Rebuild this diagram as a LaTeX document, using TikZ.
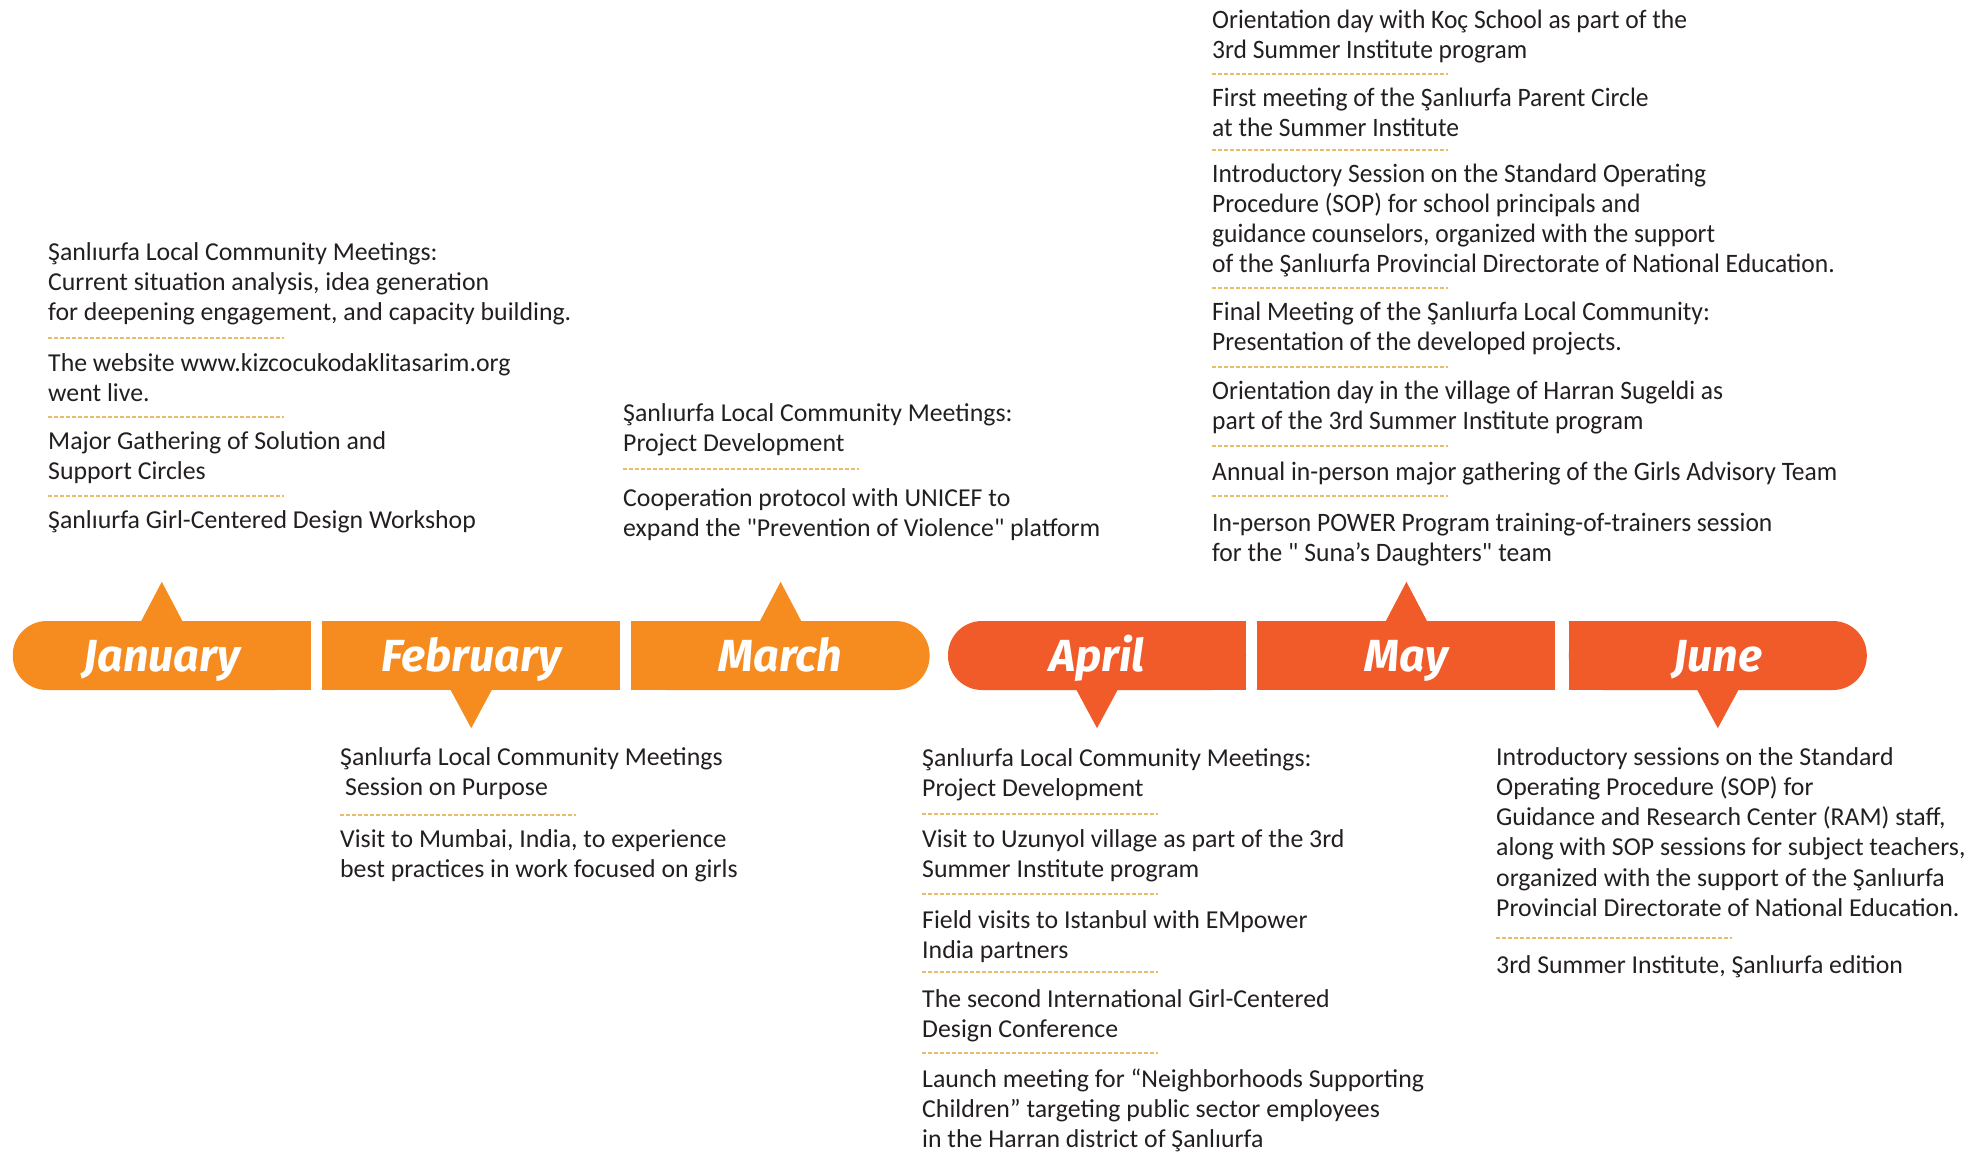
\documentclass[tikz,border=0pt]{standalone}
\usepackage{fontspec}
\setmainfont{Carlito}
\newfontfamily\monthfont{Fira Sans}
\newfontfamily\narrowfont{Carlito}[FakeStretch=0.96]
\usetikzlibrary{positioning,backgrounds}

\definecolor{early}{HTML}{F68B1F}
\definecolor{late}{HTML}{F15A29}
\definecolor{dots}{HTML}{EABB6A}
\definecolor{ink}{HTML}{231F20}

\newcommand{\sepline}[2]{\draw[sepline] (#1,#2) -- ++(236,0);}

\begin{document}
\begin{tikzpicture}[x=1pt, y=-1pt,
    month/.style={rectangle, minimum width=298pt, minimum height=69pt, inner sep=0pt,
      text height=40pt, text depth=9pt, text=white,
      font=\monthfont\bfseries\itshape\fontsize{45}{45}\selectfont},
    roundend/.style={rounded corners=34pt},
    event/.style={anchor=north west, align=left, inner sep=0pt, text=ink,
      font=\fontsize{25.8}{30.2}\selectfont},
    narrow/.style={font=\narrowfont\fontsize{26.6}{30.2}\selectfont},
    sepline/.style={draw=dots, line width=2.5pt, dash pattern=on 4pt off 2pt},
    node distance=11pt
  ]
  \useasboundingbox (0,0) rectangle (1975,1155);

  % month bar
  \node[month, roundend, fill=early, anchor=east] (jan) at (311,655.5) {January};
  \node[month, fill=early, right=of jan] (feb) {February};
  \node[month, roundend, fill=early, right=of feb] (mar) {March};
  \node[month, roundend, fill=late, right=18pt of mar] (apr) {April};
  \node[month, fill=late, right=of apr] (may) {May};
  \node[month, roundend, fill=late, right=13pt of may] (jun) {June};
  \begin{pgfonlayer}{background}
    \fill[early] (jan.north) rectangle (jan.south east);
    \fill[early] (mar.north west) rectangle (mar.south);
    \fill[late] (apr.north) rectangle (apr.south east);
    \fill[late] (jun.north west) rectangle (jun.south);
  \end{pgfonlayer}

  % pointers
  \foreach \m/\c in {jan/early, mar/early, may/late}
    \fill[\c] ([xshift=-21pt,yshift=-1pt]\m.north) -- ([yshift=39pt]\m.north) -- ([xshift=21pt,yshift=-1pt]\m.north) -- cycle;
  \foreach \m/\c in {feb/early, apr/late, jun/late}
    \fill[\c] ([xshift=-21pt,yshift=1pt]\m.south) -- ([yshift=-38pt]\m.south) -- ([xshift=21pt,yshift=1pt]\m.south) -- cycle;

  % January
  \node[event] (jan1) at (48,239) {\strut Şanlıurfa Local Community Meetings:\\Current situation analysis, idea generation\\for deepening engagement, and capacity building.};
  \sepline{48}{338}
  \node[event] (jan2) at (48,350) {\strut The website www.kizcocukodaklitasarim.org\\went live.};
  \sepline{48}{417}
  \node[event] (jan3) at (48,428) {\strut Major Gathering of Solution and\\Support Circles};
  \sepline{48}{496}
  \node[event] (jan4) at (48,507) {\strut Şanlıurfa Girl-Centered Design Workshop};

  % February
  \node[event] (feb1) at (340,744) {\strut Şanlıurfa Local Community Meetings\\\hspace*{5pt}Session on Purpose};
  \sepline{340}{815}
  \node[event] (feb2) at (340,826) {\strut Visit to Mumbai, India, to experience\\best practices in work focused on girls};

  % March
  \node[event] (mar1) at (623,400) {\strut Şanlıurfa Local Community Meetings:\\Project Development};
  \sepline{623}{469}
  \node[event] (mar2) at (623,485) {\strut Cooperation protocol with UNICEF to\\expand the \textquotedbl Prevention of Violence\textquotedbl{} platform};

  % April
  \node[event] (apr1) at (922,745) {\strut Şanlıurfa Local Community Meetings:\\Project Development};
  \sepline{922}{814}
  \node[event] (apr2) at (922,826) {\strut Visit to Uzunyol village as part of the 3rd\\Summer Institute program};
  \sepline{922}{894}
  \node[event] (apr3) at (922,907) {\strut Field visits to Istanbul with EMpower\\India partners};
  \sepline{922}{972}
  \node[event] (apr4) at (922,986) {\strut The second International Girl-Centered\\Design Conference};
  \sepline{922}{1053}
  \node[event] (apr5) at (922,1066) {\strut Launch meeting for “Neighborhoods Supporting\\Children” targeting public sector employees\\in the Harran district of Şanlıurfa};

  % May
  \node[event, narrow] (may1) at (1212,7) {\strut Orientation day with Koç School as part of the\\3rd Summer Institute program};
  \sepline{1212}{74}
  \node[event, narrow] (may2) at (1212,85) {\strut First meeting of the Şanlıurfa Parent Circle\\at the Summer Institute};
  \sepline{1212}{150}
  \node[event, narrow] (may3) at (1212,161) {\strut Introductory Session on the Standard Operating\\Procedure (SOP) for school principals and\\guidance counselors, organized with the support\\of the Şanlıurfa Provincial Directorate of National Education.};
  \sepline{1212}{288}
  \node[event, narrow] (may4) at (1212,299) {\strut Final Meeting of the Şanlıurfa Local Community:\\Presentation of the developed projects.};
  \sepline{1212}{367}
  \node[event, narrow] (may5) at (1212,378) {\strut Orientation day in the village of Harran Sugeldi as\\part of the 3rd Summer Institute program};
  \sepline{1212}{446}
  \node[event, narrow] (may6) at (1212,459) {\strut Annual in-person major gathering of the Girls Advisory Team};
  \sepline{1212}{496}
  \node[event, narrow] (may7) at (1212,510) {\strut In-person POWER Program training-of-trainers session\\for the \textquotedbl{} Suna’s Daughters\textquotedbl{} team};

  % June
  \node[event] (jun1) at (1496,744) {\strut Introductory sessions on the Standard\\Operating Procedure (SOP) for\\Guidance and Research Center (RAM) staff,\\along with SOP sessions for subject teachers,\\organized with the support of the Şanlıurfa\\Provincial Directorate of National Education.};
  \sepline{1496}{938}
  \node[event] (jun2) at (1496,952) {\strut 3rd Summer Institute, Şanlıurfa edition};
\end{tikzpicture}
\end{document}
